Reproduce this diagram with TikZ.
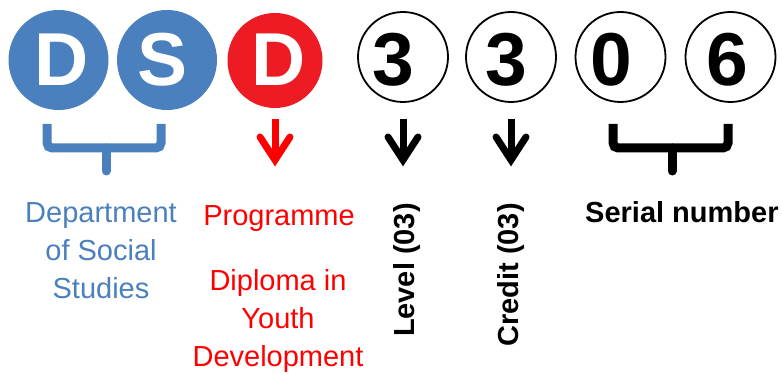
\documentclass[tikz,border=0pt]{standalone}
\usepackage{fontspec}
\setmainfont{Liberation Sans}
\usepackage{xcolor}
\usetikzlibrary{positioning, calc}

\definecolor{dsdblue}{RGB}{74,128,189}
\definecolor{dsdred}{RGB}{237,28,36}

\begin{document}
\begin{tikzpicture}[x=1pt, y=-1pt,
  disc/.style={circle, fill=#1, inner sep=0pt},
  ring/.style={circle, draw, line width=1.8pt, minimum size=90pt, inner sep=0pt},
  glyph/.style={font=\fontsize{75}{75}\selectfont\bfseries, inner sep=0pt},
  caption/.style={font=\fontsize{29}{38}\selectfont, align=center, inner sep=0pt, anchor=north},
  sidelabel/.style={font=\fontsize{29}{29}\selectfont\bfseries, rotate=90, anchor=east, inner sep=0pt},
  brace/.style={line width=9pt, rounded corners=5pt},
  down/.style={line width=7pt}]
\useasboundingbox (0,0) rectangle (782,374);

% Code circles
\node[disc=dsdblue, minimum size=100pt] (dep1) at (58.5,60) {};
\node[disc=dsdblue, minimum size=100pt] (dep2) at (167,60) {};
\node[disc=dsdred, minimum size=95pt] (prog) at (275,60.5) {};
\foreach \n/\x in {lvl/403, crd/511, ser1/620.5, ser2/730.5}
  \node[ring] (\n) at (\x,57) {};

% Code characters
\foreach \n/\x/\t/\c in {dep1/62/D/white, dep2/162.5/S/white, prog/278.5/D/white,
    lvl/393.5/3/black, crd/506/3/black, ser1/611.5/0/black, ser2/727.5/6/black}
  \node[glyph, text=\c] (\n-t) at (\x,60) {\t};

% Brackets
\draw[brace, dsdblue] (47,124) |- (106,148) -| (161,124);
\draw[brace, dsdblue, line cap=round] (106,148) -- (106,171);
\draw[brace] (613,124) |- (672,148) -| (728,124);
\draw[brace, line cap=round] (672,148) -- (672,171);

% Arrows
\foreach \n/\c in {prog/red, lvl/black, crd/black} {
  \draw[down, \c] (\n.center |- 0,119) -- (\n.center |- 0,161);
  \draw[down, \c, line cap=round] ($(\n.center |- 0,160)+(-15,-23)$) -- (\n.center |- 0,160) -- ($(\n.center |- 0,160)+(15,-23)$);
}

% Labels
\node[caption, text=dsdblue] (deplab) at (101,202) {Department\\of Social\\Studies};
\node[caption, text=red] (proglab) at (279,205) {Programme};
\node[caption, text=red] (diplab) at (278,269) {Diploma in\\Youth\\Development};
\node[sidelabel] (lvllab) at (407,203) {Level (03)};
\node[sidelabel] (crdlab) at (511,203) {Credit (03)};
\node[font=\fontsize{29}{29}\selectfont\bfseries, anchor=base west, inner sep=0pt] (serlab) at (585,223) {Serial number};
\end{tikzpicture}
\end{document}
